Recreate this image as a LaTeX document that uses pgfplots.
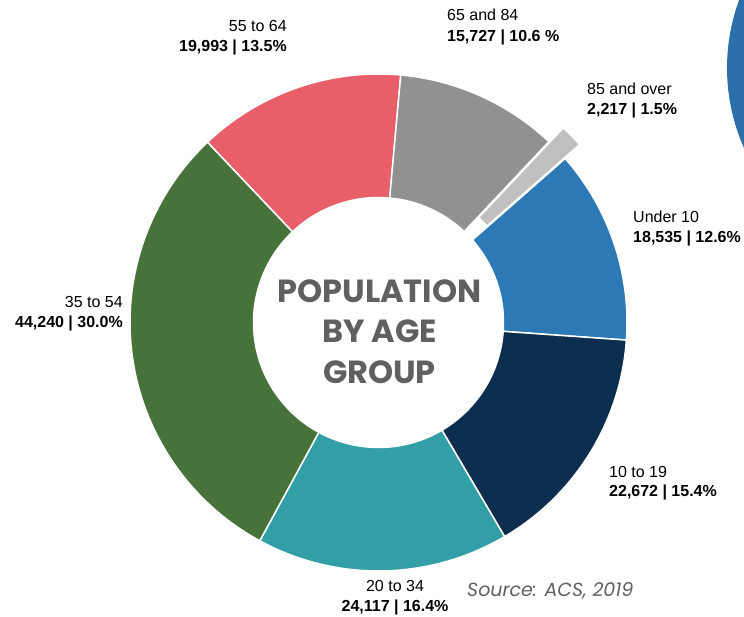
\documentclass[border=0pt]{standalone}
\usepackage{pgfplots}
\pgfplotsset{compat=1.18}
\usepackage{pgfplotstable}
\usepackage{fontspec}
\setmainfont{Liberation Sans}
\newfontfamily\gothic{Poppins}

% slice colours, clockwise from "Under 10"
\definecolor{c0}{HTML}{2C79B5}
\definecolor{c1}{HTML}{0B2D4E}
\definecolor{c2}{HTML}{329FA6}
\definecolor{c3}{HTML}{47733A}
\definecolor{c4}{HTML}{E85F6A}
\definecolor{c5}{HTML}{919191}
\definecolor{c6}{HTML}{C1C0C1}
\definecolor{cbig}{HTML}{2C6EA7}
\definecolor{ctitle}{HTML}{606060}

\pgfplotstableread{
group   count  pct   explode
U10     18535  12.6  0
A10     22672  15.4  0
A20     24117  16.4  0
A35     44240  30.0  0
A55     19993  13.5  0
A65     15727  10.6  0
A85     2217   1.5   20
}\agedata

\newcommand\lab{\fontsize{16}{19}\selectfont}
\newcommand\labb{\fontsize{16}{19}\selectfont\bfseries}
\newcommand\ttl{\gothic\fontsize{32}{36}\selectfont\bfseries}

\begin{document}
\begin{tikzpicture}
% start/end angles of the slices, clockwise
\def\cur{41.3}
\pgfplotsforeachungrouped \i in {0,...,6}{%
  \pgfplotstablegetelem{\i}{pct}\of\agedata
  \pgfmathsetmacro\nxt{\cur-3.6*\pgfplotsretval}%
  \pgfmathsetmacro\midang{(\cur+\nxt)/2}%
  \pgfplotstablegetelem{\i}{explode}\of\agedata
  \expandafter\xdef\csname ex\i\endcsname{\pgfplotsretval}%
  \expandafter\xdef\csname sa\i\endcsname{\cur}%
  \expandafter\xdef\csname ea\i\endcsname{\nxt}%
  \expandafter\xdef\csname ma\i\endcsname{\midang}%
  \xdef\cur{\nxt}%
}
\begin{axis}[x=1pt, y=1pt, xmin=0, xmax=744, ymin=0, ymax=616,
  hide axis, clip=true]
  \path (axis cs:0,0) rectangle (axis cs:744,616);
  % part of a large circle cut by the right edge
  \fill[cbig] (axis cs:744,468) arc[start angle=203.97, end angle=159.8, radius=197pt]
    -- (axis cs:744,616) -- cycle;
  \pgfplotsinvokeforeach{0,...,6}{
    \fill[c#1, draw=white, line width=1.5pt,
      shift={(axis cs:378.5,293.5)},
      shift={(\csname ma#1\endcsname:\csname ex#1\endcsname pt)}]
      (\csname sa#1\endcsname:248.5pt)
      arc[start angle=\csname sa#1\endcsname, end angle=\csname ea#1\endcsname, radius=248.5pt]
      -- (\csname ea#1\endcsname:125pt)
      arc[start angle=\csname ea#1\endcsname, end angle=\csname sa#1\endcsname, radius=125pt]
      -- cycle;
  }
  % centre title
  \node[anchor=base, inner sep=0, text=ctitle, font=\ttl] at (axis cs:379.5,313) {POPULATION};
  \node[anchor=base, inner sep=0, text=ctitle, font=\ttl] at (axis cs:379.5,273) {BY AGE};
  \node[anchor=base, inner sep=0, text=ctitle, font=\ttl] at (axis cs:379.5,232) {GROUP};
  % slice labels
  \node[anchor=base east, inner sep=0, font=\lab]  at (axis cs:287,584) {55 to 64};
  \node[anchor=base east, inner sep=0, font=\labb] at (axis cs:287,564) {19,993 | 13.5\%};
  \node[anchor=base west, inner sep=0, font=\lab]  at (axis cs:447,595) {65 and 84};
  \node[anchor=base west, inner sep=0, font=\labb] at (axis cs:447,574) {15,727 | 10.6 \%};
  \node[anchor=base west, inner sep=0, font=\lab]  at (axis cs:587,521) {85 and over};
  \node[anchor=base west, inner sep=0, font=\labb] at (axis cs:587,501) {2,217 | 1.5\%};
  \node[anchor=base west, inner sep=0, font=\lab]  at (axis cs:633,393) {Under 10};
  \node[anchor=base west, inner sep=0, font=\labb] at (axis cs:633,373) {18,535 | 12.6\%};
  \node[anchor=base east, inner sep=0, font=\lab]  at (axis cs:123,308) {35 to 54};
  \node[anchor=base east, inner sep=0, font=\labb] at (axis cs:123,288) {44,240 | 30.0\%};
  \node[anchor=base west, inner sep=0, font=\lab]  at (axis cs:609,139) {10 to 19};
  \node[anchor=base west, inner sep=0, font=\labb] at (axis cs:609,120) {22,672 | 15.4\%};
  \node[anchor=base, inner sep=0, font=\lab]  at (axis cs:395,25) {20 to 34};
  \node[anchor=base, inner sep=0, font=\labb] at (axis cs:395,5) {24,117 | 16.4\%};
  \node[anchor=base west, inner sep=0, text=ctitle, font=\gothic\fontsize{19}{21}\selectfont\itshape] at (axis cs:467,20) {Source: ACS, 2019};
\end{axis}
\end{tikzpicture}
\end{document}
